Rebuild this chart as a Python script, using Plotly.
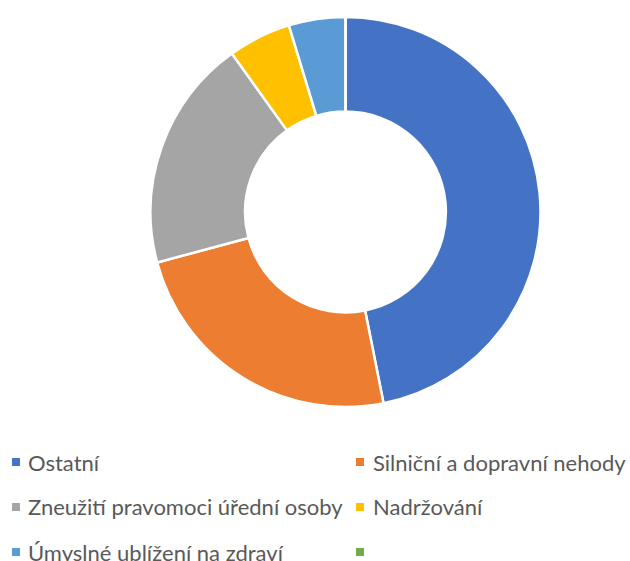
import plotly.graph_objects as go

labels = ["Ostatní", "Silniční a dopravní nehody", "Zneužití pravomoci úřední osoby",
          "Nadržování", "Úmyslné ublížení na zdraví", ""]
values = [90, 46, 37, 10, 9, 0]
colors = ["#4472C4", "#ED7D31", "#A5A5A5", "#FFC000", "#5B9BD5", "#70AD47"]

W, H = 630, 561
cx, cy, R = 345.5, 212, 195

fig = go.Figure(go.Pie(
    labels=labels, values=values, sort=False, direction="clockwise", rotation=0,
    hole=0.515, textinfo="none", hoverinfo="label+value",
    marker=dict(colors=colors, line=dict(color="white", width=2.5)),
    domain=dict(x=[(cx - R) / W, (cx + R) / W], y=[(H - cy - R) / H, (H - cy + R) / H]),
    showlegend=False,
))

# manual legend, two columns
col_sq = [12, 356]
col_tx = [28, 373]
row_y = [462, 507, 552]
sq = 8
shapes, annots = [], []
for i, (lab, col) in enumerate(zip(labels, colors)):
    c, r = i % 2, i // 2
    y = row_y[r]
    shapes.append(dict(type="rect", xref="paper", yref="paper",
                       x0=col_sq[c] / W, x1=(col_sq[c] + sq) / W,
                       y0=1 - (y + sq / 2) / H, y1=1 - (y - sq / 2) / H,
                       fillcolor=col, line=dict(width=0)))
    if lab:
        annots.append(dict(text=lab, xref="paper", yref="paper", x=col_tx[c] / W,
                           y=1 - y / H, xanchor="left", yanchor="middle", showarrow=False,
                           xshift=-2,
                           font=dict(family="Lato", size=22, color="#595959")))

fig.update_layout(width=W, height=H, margin=dict(l=0, r=0, t=0, b=0),
                  paper_bgcolor="white", plot_bgcolor="white",
                  shapes=shapes, annotations=annots)
fig.write_html("out.html", config={"displayModeBar": False},
               post_script="document.body.style.margin='0px';")
